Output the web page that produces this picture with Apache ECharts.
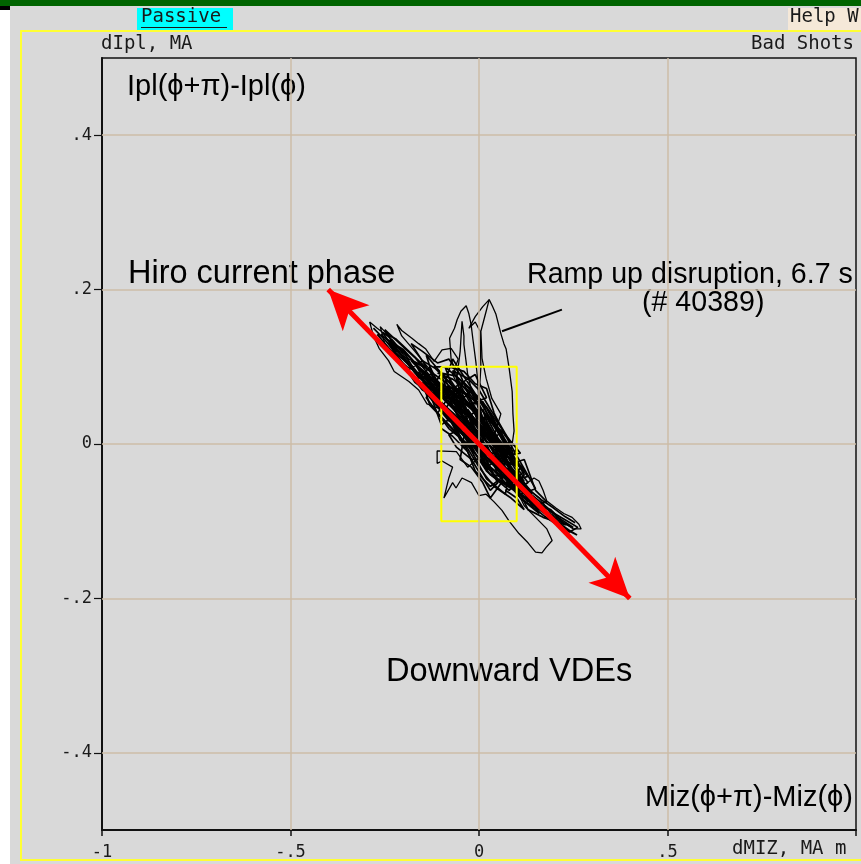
<!DOCTYPE html>
<html>
<head>
<meta charset="utf-8">
<script src="https://cdn.jsdelivr.net/npm/echarts@6/dist/echarts.min.js"></script>
<style>
  html, body { margin: 0; padding: 0; background: #ffffff; }
  #chart { width: 861px; height: 864px; }
</style>
</head>
<body>
<div id="chart"></div>
<script>
// Axis ticks and their printed labels
const xTicks = [-1, -0.5, 0, 0.5, 1];
const xTickText = ['-1', '-.5', '0', '.5', ''];
const yTicks = [-0.4, -0.2, 0, 0.2, 0.4];
const yTickText = ['-.4', '-.2', '0', '.2', '.4'];

// Grid lines inside the plot
const gridX = [-0.5, 0, 0.5];
const gridY = [-0.4, -0.2, 0, 0.2, 0.4];

// Hiro current phase direction (double-headed)
const phaseArrow = [[-0.4, 0.2], [0.4, -0.2]];

// Window of small amplitudes
const boxX = [-0.1, 0.1, 0.1, -0.1, -0.1];
const boxY = [0.1, 0.1, -0.1, -0.1, 0.1];

// Pointer from the ramp-up label to its loop
const pointer = [[0.061, 0.146], [0.22, 0.174]];

// dMIZ / dIpl trajectories, MA
const coreA = [
  [0.000, 0.010], [-0.060, 0.065], [-0.110, 0.075], [-0.150, 0.095], [-0.090, 0.040], [-0.020, 0.000],
  [0.050, -0.030], [0.090, -0.035], [0.030, 0.020], [-0.040, 0.060], [-0.100, 0.090], [-0.070, 0.050],
  [-0.010, 0.030], [0.060, -0.010], [0.110, -0.060], [0.070, -0.050], [0.010, -0.020], [-0.050, 0.020],
  [-0.120, 0.060], [-0.080, 0.070], [-0.020, 0.045], [0.040, 0.005], [0.100, -0.045], [0.140, -0.065],
  [0.080, -0.020], [0.020, 0.035], [-0.030, 0.075], [-0.090, 0.100], [-0.050, 0.045], [0.000, -0.010],
  [0.050, -0.050], [0.030, -0.060], [-0.020, -0.020], [-0.070, 0.030], [-0.130, 0.080], [-0.170, 0.105],
  [-0.110, 0.050], [-0.040, 0.010], [0.020, -0.035], [0.080, -0.060], [0.120, -0.040], [0.060, 0.010],
  [0.000, 0.050], [-0.060, 0.085], [-0.030, 0.030], [0.030, -0.010], [0.090, -0.055], [0.130, -0.075],
  [0.100, -0.030], [0.040, 0.025], [-0.010, 0.065], [-0.070, 0.110], [-0.100, 0.065], [-0.040, 0.035],
  [0.010, 0.000], [0.070, -0.035], [0.050, 0.000], [-0.010, 0.040], [-0.080, 0.080], [-0.140, 0.115],
  [-0.120, 0.085], [-0.060, 0.040], [-0.010, 0.010], [0.040, -0.025], [0.110, -0.070], [0.160, -0.090],
  [0.120, -0.055], [0.060, -0.015], [0.000, 0.025], [-0.050, 0.055], [-0.020, 0.070], [0.030, 0.040],
  [0.080, -0.005], [0.060, -0.040], [0.000, -0.005], [-0.050, 0.005], [-0.090, 0.045], [-0.040, 0.080],
  [0.010, 0.055], [0.050, 0.020], [0.090, -0.010], [0.070, -0.065], [0.020, -0.045], [-0.030, 0.000],
  [-0.080, 0.020], [-0.110, 0.040], [-0.060, 0.075], [-0.010, 0.090], [0.020, 0.060], [-0.030, 0.050],
  [0.010, 0.030], [0.050, -0.005]
];
const coreB = [
  [-0.200, 0.120], [-0.160, 0.085], [-0.130, 0.100], [-0.090, 0.060], [-0.060, 0.070], [-0.030, 0.035],
  [0.000, 0.045], [0.030, 0.005], [0.060, 0.015], [0.090, -0.025], [0.120, -0.020], [0.150, -0.060],
  [0.180, -0.075], [0.140, -0.080], [0.110, -0.050], [0.080, -0.055], [0.050, -0.020], [0.020, -0.030],
  [-0.010, 0.005], [-0.040, -0.005], [-0.070, 0.035], [-0.100, 0.025], [-0.130, 0.065], [-0.170, 0.080],
  [-0.210, 0.110], [-0.240, 0.130], [-0.200, 0.100], [-0.150, 0.070], [-0.110, 0.060], [-0.070, 0.060],
  [-0.030, 0.020], [0.010, 0.015], [0.050, -0.040], [0.090, -0.045], [0.130, -0.085], [0.170, -0.095],
  [0.200, -0.100], [0.230, -0.105], [0.190, -0.085], [0.150, -0.080], [0.100, -0.060], [0.060, -0.030],
  [0.020, -0.010], [-0.020, 0.055], [-0.050, 0.090], [-0.080, 0.110], [-0.110, 0.105], [-0.150, 0.120],
  [-0.180, 0.130], [-0.140, 0.100]
];
const coreC = [
  [-0.080, 0.070], [-0.040, 0.040], [-0.070, 0.055], [-0.020, 0.020], [-0.060, 0.030], [-0.010, 0.000],
  [-0.030, 0.045], [0.020, 0.010], [-0.010, 0.060], [0.040, -0.005], [0.010, 0.045], [0.060, -0.025],
  [0.020, 0.020], [0.070, -0.020], [0.030, -0.015], [0.080, -0.045], [0.040, -0.040], [0.000, 0.000],
  [-0.050, 0.050], [-0.090, 0.075], [-0.030, 0.065], [0.000, 0.035], [-0.040, 0.015], [0.010, -0.015],
  [0.050, -0.010], [0.000, 0.020], [-0.060, 0.060], [-0.100, 0.080], [-0.050, 0.030], [0.030, -0.030],
  [0.070, -0.045], [0.100, -0.050], [0.060, -0.005], [0.020, 0.030], [-0.020, 0.050], [-0.070, 0.095],
  [-0.030, 0.085], [0.000, 0.070], [0.030, 0.045], [0.050, 0.030], [0.080, 0.005], [0.060, -0.050],
  [0.030, -0.070], [0.010, -0.050], [-0.020, -0.030], [-0.050, -0.020], [-0.040, 0.010], [-0.080, 0.040],
  [-0.120, 0.065], [-0.150, 0.080], [-0.130, 0.050], [-0.090, 0.030], [-0.050, 0.010], [0.000, -0.030],
  [0.040, -0.055], [0.085, -0.070], [0.120, -0.085], [0.100, -0.070], [0.070, -0.060]
];
const coreD = [
  [-0.160, 0.100], [-0.100, 0.075], [-0.050, 0.045], [0.000, 0.028], [0.050, -0.005], [0.100, -0.040], [0.140, -0.062],
  [0.120, -0.058], [0.070, -0.030], [0.020, 0.004], [-0.030, 0.030], [-0.080, 0.052], [-0.130, 0.082], [-0.180, 0.108],
  [-0.140, 0.098], [-0.090, 0.080], [-0.040, 0.058], [0.010, 0.030], [0.060, 0.002], [0.110, -0.030],
  [0.090, -0.048], [0.040, -0.025], [-0.010, -0.004], [-0.060, 0.020], [-0.110, 0.048], [-0.160, 0.078],
  [-0.120, 0.072], [-0.070, 0.066], [-0.020, 0.050], [0.030, 0.018], [0.080, -0.018], [0.130, -0.050],
  [0.100, -0.060], [0.050, -0.045], [0.000, -0.018], [-0.050, 0.008], [-0.100, 0.034], [-0.140, 0.060],
  [-0.100, 0.092], [-0.060, 0.088], [-0.020, 0.068], [0.020, 0.048], [0.060, 0.020], [0.100, -0.015], [0.150, -0.058],
  [0.110, -0.065], [0.060, -0.050], [0.020, -0.030], [-0.020, 0.008], [-0.070, 0.040], [-0.120, 0.058], [-0.190, 0.095],
  [-0.150, 0.108], [-0.110, 0.096], [-0.070, 0.076], [-0.030, 0.062], [0.000, 0.040], [0.040, 0.012], [0.080, -0.008], [0.120, -0.035],
  [0.080, -0.055], [0.030, -0.040], [-0.010, -0.012], [-0.040, 0.018], [-0.080, 0.030], [-0.130, 0.060],
  [-0.090, 0.068], [-0.050, 0.072], [-0.010, 0.055], [0.030, 0.030], [0.070, 0.000], [0.090, -0.025],
  [0.050, -0.020], [0.010, 0.012], [-0.030, 0.040], [-0.060, 0.050], [-0.090, 0.085], [-0.120, 0.100],
  [-0.080, 0.100], [-0.040, 0.094], [-0.010, 0.078], [0.020, 0.072], [0.040, 0.040], [0.070, 0.010], [0.100, -0.005],
  [0.070, -0.040], [0.030, -0.055], [-0.010, -0.035], [-0.030, -0.010], [-0.070, 0.010], [-0.100, 0.020]
];
const coreE = [
  [-0.260, 0.142], [-0.220, 0.125], [-0.180, 0.100], [-0.140, 0.078], [-0.100, 0.058],
  [-0.140, 0.090], [-0.190, 0.115], [-0.230, 0.132], [-0.250, 0.148],
  [-0.210, 0.130], [-0.170, 0.112], [-0.130, 0.088], [-0.090, 0.070],
  [-0.130, 0.072], [-0.170, 0.092], [-0.210, 0.118], [-0.245, 0.136],
  [-0.200, 0.122], [-0.160, 0.100], [-0.120, 0.080], [-0.080, 0.062],
  [0.060, -0.030], [0.100, -0.050], [0.140, -0.072], [0.180, -0.088], [0.220, -0.102], [0.250, -0.108],
  [0.210, -0.095], [0.170, -0.080], [0.130, -0.068], [0.090, -0.052],
  [0.120, -0.065], [0.160, -0.085], [0.200, -0.098], [0.240, -0.112], [0.260, -0.118],
  [0.220, -0.108], [0.180, -0.092], [0.140, -0.078], [0.100, -0.062], [0.060, -0.040]
];
const coreF = [
  [-0.120, 0.088], [-0.080, 0.058], [-0.040, 0.048], [0.000, 0.018], [0.040, 0.000], [0.080, -0.028], [0.120, -0.048],
  [0.090, -0.038], [0.050, -0.012], [0.010, 0.008], [-0.030, 0.026], [-0.070, 0.046], [-0.110, 0.066], [-0.150, 0.088],
  [-0.110, 0.082], [-0.070, 0.060], [-0.030, 0.042], [0.010, 0.022], [0.050, 0.006], [0.090, -0.020], [0.130, -0.042],
  [0.100, -0.046], [0.060, -0.026], [0.020, -0.006], [-0.020, 0.016], [-0.060, 0.036], [-0.100, 0.054], [-0.140, 0.072],
  [-0.100, 0.070], [-0.060, 0.052], [-0.020, 0.034], [0.020, 0.014], [0.060, -0.008], [0.100, -0.028],
  [0.070, -0.022], [0.030, -0.002], [-0.010, 0.020], [-0.050, 0.064], [-0.080, 0.086], [-0.110, 0.092],
  [-0.070, 0.084], [-0.030, 0.070], [0.010, 0.052], [0.030, 0.030], [0.070, 0.012], [0.110, -0.012],
  [0.080, -0.014], [0.040, 0.004], [0.000, -0.002], [-0.040, 0.022], [-0.080, 0.012], [-0.060, -0.004],
  [-0.020, -0.020], [0.020, -0.020], [0.060, -0.036], [0.100, -0.040]
];
const coreG = [
  [-0.280, 0.150], [-0.250, 0.135], [-0.220, 0.118], [-0.190, 0.104], [-0.160, 0.088], [-0.130, 0.076], [-0.100, 0.064],
  [-0.130, 0.094], [-0.160, 0.108], [-0.190, 0.122], [-0.220, 0.136], [-0.255, 0.144],
  [-0.230, 0.126], [-0.200, 0.112], [-0.170, 0.094], [-0.140, 0.084], [-0.110, 0.074],
  [-0.140, 0.068], [-0.170, 0.084], [-0.200, 0.104], [-0.235, 0.122], [-0.270, 0.142]
];
const coreH = [
  [0.080, -0.040], [0.110, -0.058], [0.140, -0.066], [0.170, -0.078], [0.200, -0.090], [0.235, -0.100], [0.262, -0.108],
  [0.240, -0.114], [0.205, -0.104], [0.175, -0.094], [0.145, -0.082], [0.115, -0.072], [0.085, -0.056],
  [0.110, -0.048], [0.135, -0.060], [0.165, -0.072], [0.195, -0.082], [0.228, -0.094], [0.255, -0.102]
];
const upperTrail = [
  [-0.140, 0.100], [-0.186, 0.110], [-0.230, 0.135], [-0.270, 0.150], [-0.290, 0.158], [-0.280, 0.140],
  [-0.265, 0.124], [-0.240, 0.108], [-0.225, 0.094], [-0.186, 0.081], [-0.160, 0.070], [-0.138, 0.052],
  [-0.100, 0.045], [-0.150, 0.085], [-0.200, 0.115], [-0.240, 0.140], [-0.262, 0.152], [-0.250, 0.130],
  [-0.220, 0.112], [-0.190, 0.100], [-0.150, 0.090], [-0.120, 0.090], [-0.170, 0.120], [-0.205, 0.140],
  [-0.218, 0.155], [-0.205, 0.147], [-0.178, 0.137], [-0.160, 0.130], [-0.141, 0.123], [-0.119, 0.107],
  [-0.098, 0.122], [-0.074, 0.124], [-0.055, 0.110], [-0.070, 0.090], [-0.040, 0.060]
];
const rampLoopL = [
  [-0.040, 0.060], [-0.074, 0.110], [-0.078, 0.137], [-0.065, 0.150], [-0.058, 0.161], [-0.048, 0.172],
  [-0.034, 0.179], [-0.027, 0.169], [-0.021, 0.155], [-0.016, 0.135], [-0.013, 0.124], [-0.008, 0.105],
  [-0.005, 0.090], [0.000, 0.055], [0.010, 0.030]
];
const rampLoopInner = [
  [-0.060, 0.080], [-0.050, 0.120], [-0.045, 0.159], [-0.040, 0.140], [-0.040, 0.129], [-0.030, 0.090],
  [-0.010, 0.050]
];
const rampLoopR = [
  [0.000, 0.060], [0.005, 0.100], [0.003, 0.146], [-0.010, 0.158], [-0.027, 0.150], [-0.010, 0.165],
  [0.010, 0.178], [0.027, 0.187], [0.036, 0.178], [0.045, 0.168], [0.058, 0.143], [0.066, 0.130],
  [0.072, 0.123], [0.080, 0.098], [0.088, 0.068], [0.090, 0.039], [0.093, 0.017], [0.085, -0.010],
  [0.060, -0.010]
];
const rampLoopR2 = [
  [0.027, 0.187], [0.019, 0.172], [0.005, 0.146], [0.008, 0.111], [0.019, 0.085], [0.034, 0.059],
  [0.058, 0.039], [0.040, 0.010]
];
const lowerTrail = [
  [0.020, -0.010], [-0.030, -0.030], [-0.060, -0.010], [-0.111, -0.009], [-0.111, -0.025], [-0.098, -0.022],
  [-0.070, -0.030], [-0.080, -0.044], [-0.093, -0.070], [-0.070, -0.050], [-0.061, -0.057], [-0.045, -0.044],
  [-0.020, -0.050], [0.000, -0.067], [0.019, -0.065], [0.040, -0.075], [0.061, -0.086], [0.080, -0.100],
  [0.106, -0.116], [0.130, -0.128], [0.150, -0.140], [0.167, -0.141], [0.178, -0.134], [0.194, -0.125],
  [0.180, -0.110], [0.150, -0.095], [0.120, -0.080], [0.100, -0.060], [0.146, -0.044], [0.159, -0.048],
  [0.170, -0.060], [0.180, -0.074], [0.204, -0.083], [0.225, -0.090], [0.247, -0.095], [0.265, -0.104],
  [0.271, -0.110], [0.250, -0.110], [0.220, -0.100], [0.190, -0.090], [0.160, -0.070], [0.120, -0.055],
  [0.080, -0.035]
];

// Dense central oscillations are drawn a little heavier than the excursions
const denseTraces = [coreA, coreB, coreC, coreD, coreE, coreF, coreG, coreH];
const thinTraces = [upperTrail, rampLoopL, rampLoopInner, rampLoopR, rampLoopR2, lowerTrail];

const chart = echarts.init(document.getElementById('chart'), null, { renderer: 'canvas' });

const gridColor = '#cdbda7';
const monoFont = '"DejaVu Sans Mono"';
const textFont = '"Liberation Sans"';

function traceSeries(pts, width) {
  return {
    type: 'line',
    data: pts,
    symbol: 'none',
    silent: true,
    z: 3,
    lineStyle: { color: '#000000', width: width }
  };
}

const gridLineData = gridX.map(function (v) { return { xAxis: v }; })
  .concat(gridY.map(function (v) { return { yAxis: v }; }));

function tickText(ticks, texts, v) {
  const i = ticks.findIndex(function (t) { return Math.abs(t - v) < 1e-9; });
  return i < 0 ? '' : texts[i];
}

const option = {
  animation: false,
  backgroundColor: '#d9d9d9',
  grid: {
    left: 102, top: 58, right: 5, bottom: 34,
    show: true, borderColor: '#111111', borderWidth: 1.5, backgroundColor: 'transparent'
  },
  xAxis: {
    type: 'value', min: -1, max: 1, interval: 0.5,
    axisLine: { onZero: false, lineStyle: { color: '#111111', width: 2 } },
    axisTick: { show: true, length: 6, inside: false, lineStyle: { color: '#111111', width: 1.5 } },
    splitLine: { show: false },
    axisLabel: {
      margin: 14, fontFamily: 'DejaVu Sans Mono', fontSize: 17, color: '#1a1a1a',
      formatter: function (v) { return tickText(xTicks, xTickText, v); }
    }
  },
  yAxis: {
    type: 'value', min: -0.5, max: 0.5, interval: 0.1,
    axisLine: { onZero: false, lineStyle: { color: '#111111', width: 2 } },
    axisTick: { show: true, length: 8, customValues: yTicks, lineStyle: { color: '#111111', width: 1.2 } },
    splitLine: { show: false },
    axisLabel: {
      margin: 10, fontFamily: 'DejaVu Sans Mono', fontSize: 17, color: '#1a1a1a', customValues: yTicks,
      formatter: function (v) { return tickText(yTicks, yTickText, v); }
    }
  },
  graphic: [
    { type: 'rect', shape: { x: 0, y: 0, width: 861, height: 6 }, style: { fill: '#006400' }, z: -10 },
    { type: 'rect', shape: { x: 0, y: 6, width: 10, height: 858 }, style: { fill: '#ffffff' }, z: -10 },
    { type: 'rect', shape: { x: 0, y: 6, width: 10, height: 4 }, style: { fill: '#000000' }, z: -9 },
    { type: 'rect', shape: { x: 21, y: 31, width: 860, height: 829 }, style: { fill: 'none', stroke: '#ffff33', lineWidth: 2 }, z: -8 },
    { type: 'rect', shape: { x: 137, y: 8, width: 96, height: 22 }, style: { fill: '#00ffff' }, z: -7 },
    { type: 'text', left: 141, top: 8, style: { text: 'Passive', font: '19px ' + monoFont, fill: '#1a1a1a' } },
    { type: 'rect', shape: { x: 141, y: 27, width: 86, height: 1 }, style: { fill: '#1a1a1a' } },
    { type: 'rect', shape: { x: 788, y: 8, width: 80, height: 22 }, style: { fill: '#f5e8d8' }, z: -7 },
    { type: 'text', left: 790, top: 8, style: { text: 'Help W', font: '19px ' + monoFont, fill: '#1a1a1a' } },
    { type: 'text', left: 101, top: 35, style: { text: 'dIpl, MA', font: '19px ' + monoFont, fill: '#1a1a1a' } },
    { type: 'text', right: 7, top: 35, style: { text: 'Bad Shots', font: '19px ' + monoFont, fill: '#1a1a1a' } },
    { type: 'text', left: 732, top: 840, style: { text: 'dMIZ, MA m', font: '19px ' + monoFont, fill: '#1a1a1a' } },
    { type: 'text', left: 127, top: 72, style: { text: 'Ipl(ϕ+π)-Ipl(ϕ)', font: '29px ' + textFont, fill: '#000000' } },
    { type: 'text', left: 128, top: 258, style: { text: 'Hiro current phase', font: '32.5px ' + textFont, fill: '#000000' } },
    { type: 'text', left: 527, top: 261, style: { text: 'Ramp up disruption, 6.7 s', font: '28.6px ' + textFont, fill: '#000000' } },
    { type: 'text', left: 642, top: 289, style: { text: '(# 40389)', font: '28.6px ' + textFont, fill: '#000000' } },
    { type: 'text', left: 386, top: 656, style: { text: 'Downward VDEs', font: '32.6px ' + textFont, fill: '#000000' } },
    { type: 'text', right: 8, top: 783, style: { text: 'Miz(ϕ+π)-Miz(ϕ)', font: '29px ' + textFont, fill: '#000000' } }
  ],
  series: [
    {
      type: 'line', data: [], silent: true, z: 1,
      markLine: {
        silent: true, symbol: ['none', 'none'], label: { show: false },
        lineStyle: { color: gridColor, width: 1.5, type: 'solid' },
        data: gridLineData
      }
    }
  ]
    .concat(denseTraces.map(function (p) { return traceSeries(p, 1.7); }))
    .concat(thinTraces.map(function (p) { return traceSeries(p, 1.3); }))
    .concat([
      {
        type: 'line', data: boxX.map(function (x, i) { return [x, boxY[i]]; }),
        symbol: 'none', silent: true, z: 4,
        lineStyle: { color: '#ffff00', width: 2 }
      },
      {
        type: 'line', data: pointer, symbol: 'none', silent: true, z: 4,
        lineStyle: { color: '#000000', width: 2 }
      },
      {
        type: 'line', data: [], silent: true, z: 6,
        markLine: {
          silent: true, symbol: ['arrow', 'arrow'], symbolSize: [28, 40],
          label: { show: false },
          lineStyle: { color: '#ff0000', width: 5, type: 'solid' },
          itemStyle: { color: '#ff0000' },
          data: [[{ coord: phaseArrow[0] }, { coord: phaseArrow[1] }]]
        }
      }
    ])
};

chart.setOption(option);
</script>
</body>
</html>
